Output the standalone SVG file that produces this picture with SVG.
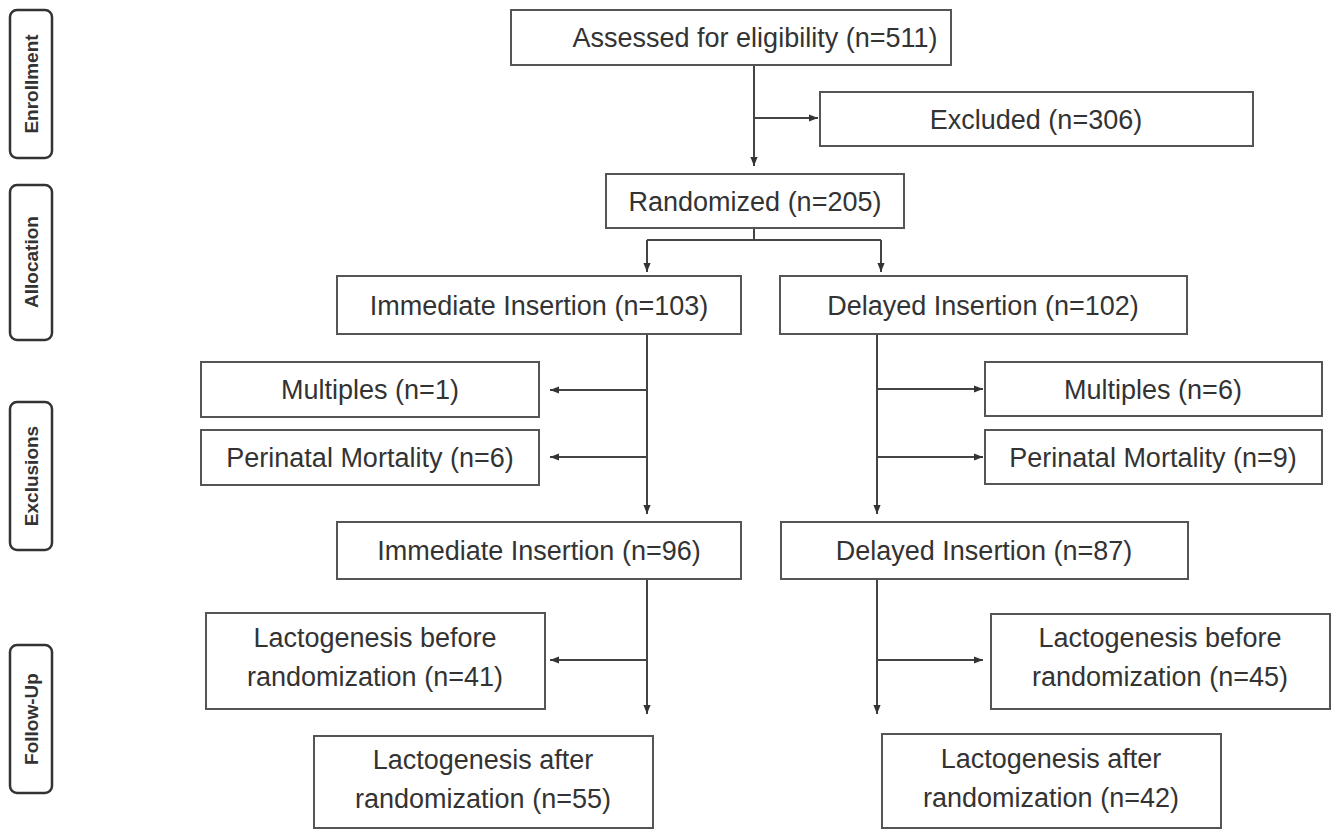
<svg xmlns="http://www.w3.org/2000/svg" width="1339" height="831" viewBox="0 0 1339 831">
<defs>
<marker id="arr" viewBox="0 0 10 10" refX="10" refY="5" markerWidth="9" markerHeight="9" markerUnits="userSpaceOnUse" orient="auto">
<path d="M0,1 L10,5 L0,9 z" fill="#333"/>
</marker>
</defs>
<style>
.box{fill:#fff;stroke:#555;stroke-width:2}
.side{fill:#fff;stroke:#333;stroke-width:2.5}
.t{font-family:"Liberation Sans",Arial,sans-serif;font-size:27px;fill:#333;text-anchor:middle}
.s{font-family:"Liberation Sans",Arial,sans-serif;font-size:19px;font-weight:bold;fill:#333;text-anchor:middle}
.c{fill:none;stroke:#444;stroke-width:2}
.a{fill:none;stroke:#444;stroke-width:2;marker-end:url(#arr)}
</style>
<rect width="1339" height="831" fill="#fff"/>

<g id="side-enrollment"><rect class="side" x="10" y="10" width="42" height="148" rx="7"/><text class="s" transform="translate(38,84) rotate(-90)">Enrollment</text></g>
<g id="side-allocation"><rect class="side" x="10" y="185" width="42" height="155" rx="7"/><text class="s" transform="translate(38,262) rotate(-90)">Allocation</text></g>
<g id="side-exclusions"><rect class="side" x="10" y="402" width="42" height="148" rx="7"/><text class="s" transform="translate(38,476) rotate(-90)">Exclusions</text></g>
<g id="side-followup"><rect class="side" x="10" y="645" width="42" height="148" rx="7"/><text class="s" transform="translate(38,719) rotate(-90)">Follow-Up</text></g>

<g id="connectors">
<line class="c" x1="754" y1="65" x2="754" y2="118"/>
<line class="a" x1="754" y1="118" x2="754" y2="166"/>
<line class="a" x1="754" y1="118" x2="818" y2="118"/>
<line class="c" x1="754" y1="228" x2="754" y2="240"/>
<line class="c" x1="647" y1="240" x2="881" y2="240"/>
<line class="a" x1="647" y1="240" x2="647" y2="272"/>
<line class="a" x1="881" y1="240" x2="881" y2="272"/>
<line class="c" x1="647" y1="334" x2="647" y2="457"/>
<line class="a" x1="647" y1="457" x2="647" y2="514"/>
<line class="a" x1="647" y1="390" x2="550" y2="390"/>
<line class="a" x1="647" y1="457" x2="550" y2="457"/>
<line class="c" x1="877" y1="334" x2="877" y2="457"/>
<line class="a" x1="877" y1="457" x2="877" y2="514"/>
<line class="a" x1="877" y1="389" x2="983" y2="389"/>
<line class="a" x1="877" y1="457" x2="983" y2="457"/>
<line class="c" x1="647" y1="579" x2="647" y2="660"/>
<line class="a" x1="647" y1="660" x2="647" y2="714"/>
<line class="a" x1="647" y1="660" x2="550" y2="660"/>
<line class="c" x1="877" y1="579" x2="877" y2="660"/>
<line class="a" x1="877" y1="660" x2="877" y2="714"/>
<line class="a" x1="877" y1="660" x2="983" y2="660"/>
</g>

<g id="assessed"><rect class="box" x="511" y="10" width="440" height="55"/><text class="t" x="755" y="47">Assessed for eligibility (n=511)</text></g>
<g id="excluded"><rect class="box" x="820" y="92" width="433" height="54"/><text class="t" x="1036" y="129">Excluded (n=306)</text></g>
<g id="randomized"><rect class="box" x="606" y="174" width="298" height="54"/><text class="t" x="755" y="211">Randomized (n=205)</text></g>
<g id="imm103"><rect class="box" x="337" y="276" width="404" height="58"/><text class="t" x="539" y="315">Immediate Insertion (n=103)</text></g>
<g id="del102"><rect class="box" x="780" y="276" width="407" height="58"/><text class="t" x="983" y="315">Delayed Insertion (n=102)</text></g>
<g id="mult1"><rect class="box" x="201" y="362" width="338" height="55"/><text class="t" x="370" y="399">Multiples (n=1)</text></g>
<g id="peri6"><rect class="box" x="201" y="430" width="338" height="55"/><text class="t" x="370" y="467">Perinatal Mortality (n=6)</text></g>
<g id="mult6"><rect class="box" x="985" y="362" width="337" height="54"/><text class="t" x="1153" y="399">Multiples (n=6)</text></g>
<g id="peri9"><rect class="box" x="985" y="430" width="337" height="54"/><text class="t" x="1153" y="467">Perinatal Mortality (n=9)</text></g>
<g id="imm96"><rect class="box" x="337" y="522" width="404" height="57"/><text class="t" x="539" y="560">Immediate Insertion (n=96)</text></g>
<g id="del87"><rect class="box" x="781" y="522" width="407" height="57"/><text class="t" x="984" y="560">Delayed Insertion (n=87)</text></g>
<g id="lacb41"><rect class="box" x="206" y="613" width="339" height="96"/><text class="t" x="375" y="647">Lactogenesis before</text><text class="t" x="375" y="686">randomization (n=41)</text></g>
<g id="lacb45"><rect class="box" x="991" y="614" width="339" height="95"/><text class="t" x="1160" y="647">Lactogenesis before</text><text class="t" x="1160" y="686">randomization (n=45)</text></g>
<g id="laca55"><rect class="box" x="314" y="736" width="339" height="92"/><text class="t" x="483" y="769">Lactogenesis after</text><text class="t" x="483" y="808">randomization (n=55)</text></g>
<g id="laca42"><rect class="box" x="882" y="734" width="339" height="94"/><text class="t" x="1051" y="768">Lactogenesis after</text><text class="t" x="1051" y="807">randomization (n=42)</text></g>
</svg>
